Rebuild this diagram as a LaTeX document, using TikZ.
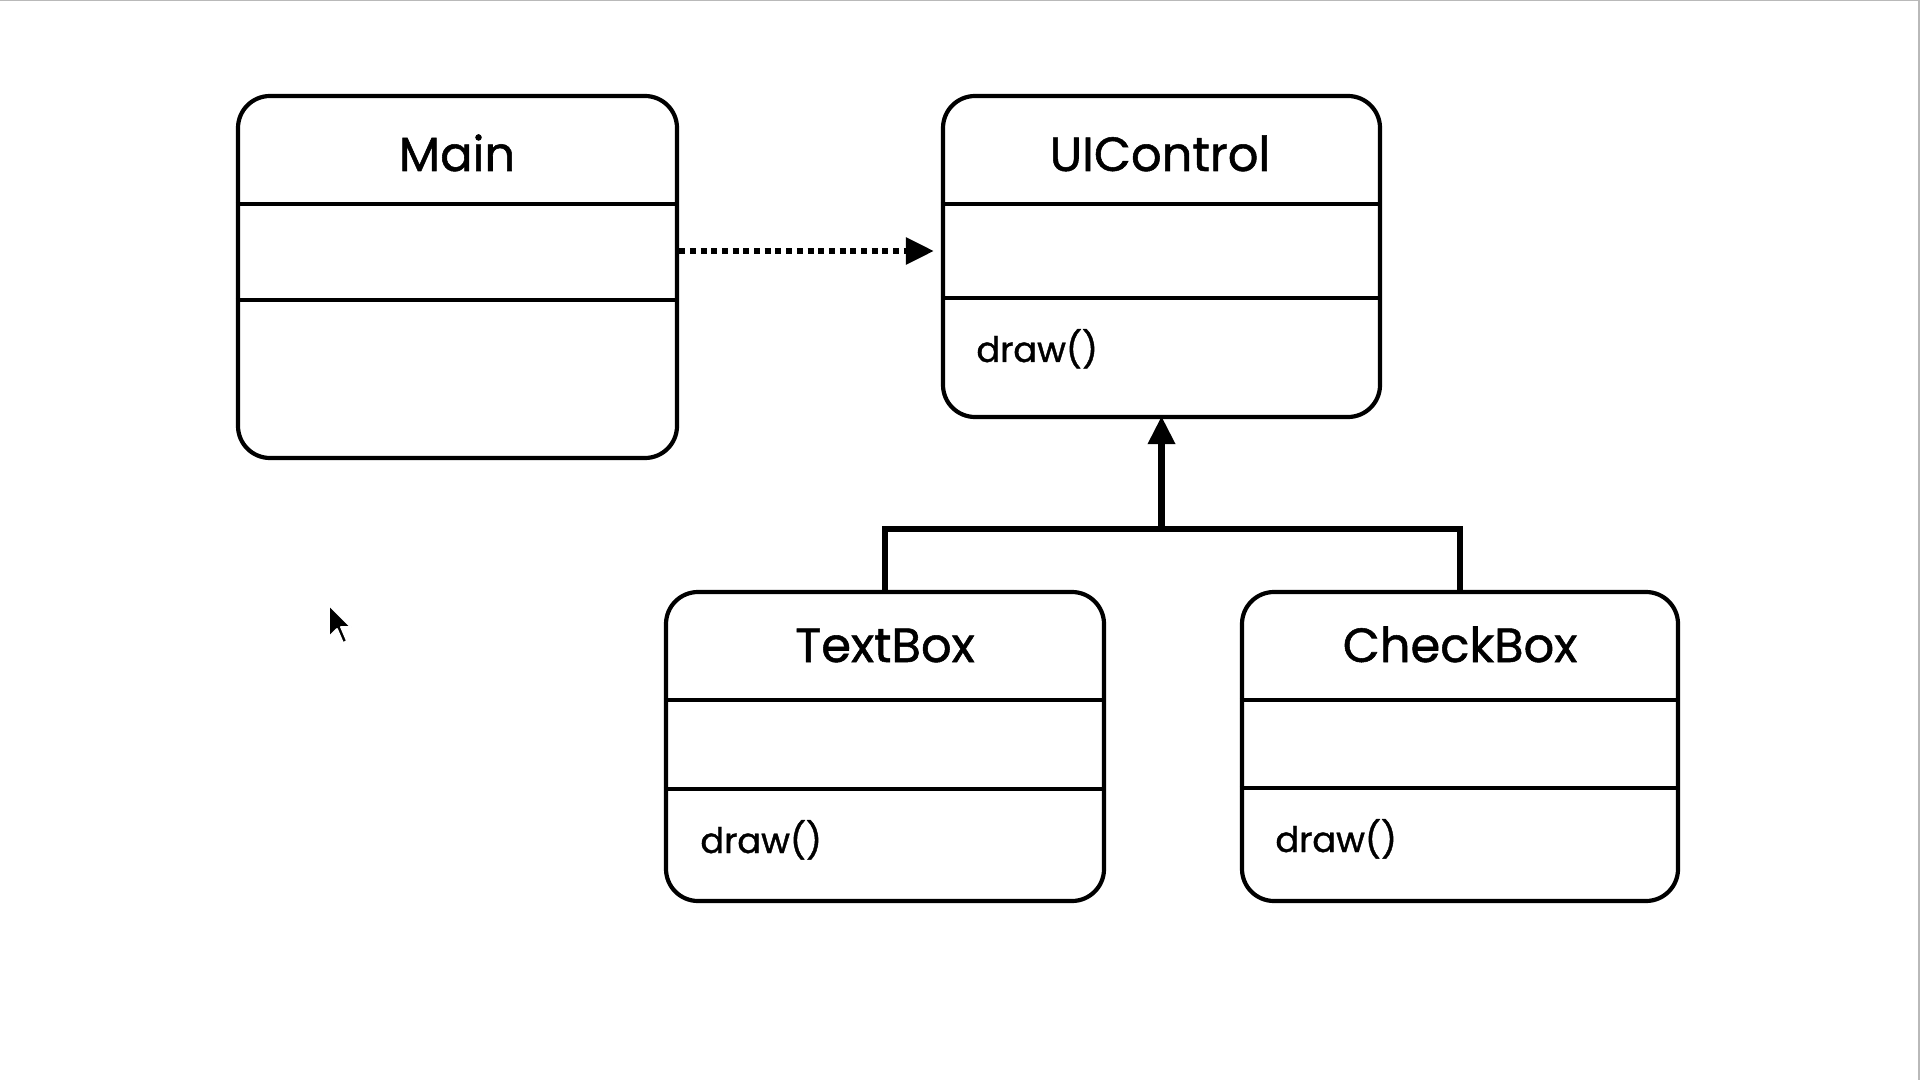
\documentclass[tikz,border=0pt]{standalone}
\usepackage{fontspec}
\setmainfont{Poppins}
\newfontfamily\medfont{Poppins}[FakeBold=1.1]
\usetikzlibrary{arrows.meta}
\begin{document}
\begin{tikzpicture}[x=0.5pt,y=-0.5pt,
  umlbox/.style={draw=black, line width=2.1pt, rounded corners=16pt, fill=white, inner sep=0pt},
  divider/.style={draw=black, line width=1.6pt},
  titletext/.style={anchor=base, inner sep=0pt, font=\medfont\fontsize{24}{28}\selectfont},
  optext/.style={anchor=base west, inner sep=0pt, font=\medfont\fontsize{17.6}{20}\selectfont},
  conn/.style={draw=black, line width=3.3pt},
  tri/.style={-{Triangle[length=14pt,width=13pt]}},
  dottedconn/.style={draw=black, line width=3pt, dash pattern=on 3pt off 2.35pt}
]
\useasboundingbox (0,0) rectangle (1920,1080);
\fill[white] (0,0) rectangle (1920,1080);
\draw[gray!55, line width=0.75pt] (0,0.75) -- (1918.5,0.75);
\draw[gray!55, line width=1pt] (1918.5,0) -- (1918.5,1080);

% boxes
\node[umlbox, minimum width=219.5pt, minimum height=181pt] (Main) at (457.5,277) {};
\node[umlbox, minimum width=218.5pt, minimum height=160.5pt] (UIControl) at (1161.5,256.5) {};
\node[umlbox, minimum width=219pt, minimum height=154.5pt] (TextBox) at (885,746.5) {};
\node[umlbox, minimum width=218pt, minimum height=154.5pt] (CheckBox) at (1460,746.5) {};

% dividers
\draw[divider] (Main.west |- 0,204) -- (Main.east |- 0,204);
\draw[divider] (Main.west |- 0,300) -- (Main.east |- 0,300);
\draw[divider] (UIControl.west |- 0,204) -- (UIControl.east |- 0,204);
\draw[divider] (UIControl.west |- 0,298) -- (UIControl.east |- 0,298);
\draw[divider] (TextBox.west |- 0,700) -- (TextBox.east |- 0,700);
\draw[divider] (TextBox.west |- 0,789) -- (TextBox.east |- 0,789);
\draw[divider] (CheckBox.west |- 0,700) -- (CheckBox.east |- 0,700);
\draw[divider] (CheckBox.west |- 0,788) -- (CheckBox.east |- 0,788);

% texts
\node[titletext] (tMain) at (457,171) {Main};
\node[titletext] (tUI) at (1160,171) {UIControl};
\node[titletext] (tText) at (885,662) {TextBox};
\node[titletext] (tCheck) at (1460,662) {CheckBox};
\node[optext] (oUI) at (976,362) {draw()};
\node[optext] (oText) at (700,853) {draw()};
\node[optext] (oCheck) at (1275,852) {draw()};

% dependency (dotted)
\draw[dottedconn, tri, shorten >=3.5pt] (Main.east |- 0,251) -- (UIControl.west |- 0,251);

% inheritance
\coordinate (bar) at (1162,529);
\draw[conn] (TextBox.north) -- (TextBox.north |- bar) -- (CheckBox.north |- bar) -- (CheckBox.north);
\draw[conn, tri, shorten >=-1.5pt] (UIControl.south |- bar) -- (UIControl.south);

% mouse cursor
\filldraw[fill=black, draw=white, line width=0.9pt, line join=round]
  (329,605) -- (329,637) -- (337,629) -- (343,643) -- (347,641)
  -- (341,627) -- (351,627) -- cycle;
\end{tikzpicture}
\end{document}
